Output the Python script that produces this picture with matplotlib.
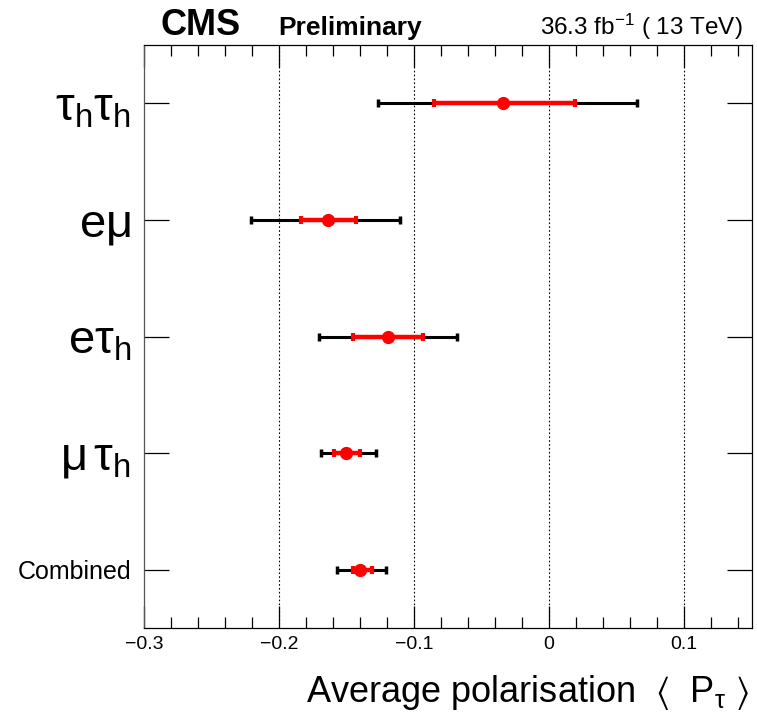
import matplotlib
matplotlib.use('Agg')
import matplotlib.pyplot as plt
from matplotlib.ticker import MultipleLocator

plt.rcParams['font.family'] = ['Liberation Sans', 'DejaVu Sans']
plt.rcParams['mathtext.fontset'] = 'custom'
plt.rcParams['mathtext.rm'] = 'Liberation Sans'
plt.rcParams['mathtext.it'] = 'Liberation Sans:italic'
plt.rcParams['mathtext.fallback'] = 'stix'

# channels, top to bottom
channels = [r'$\mathrm{τ_hτ_h}$', r'$\mathrm{eμ}$', r'$\mathrm{eτ_h}$', r'$\mathrm{μ\,τ_h}$', 'Combined']
pol = [-0.034, -0.164, -0.119, -0.150, -0.140]
stat_lo = [-0.085, -0.184, -0.145, -0.159, -0.145]
stat_hi = [0.019, -0.143, -0.093, -0.140, -0.131]
tot_lo = [-0.127, -0.221, -0.170, -0.169, -0.157]
tot_hi = [0.065, -0.110, -0.068, -0.128, -0.121]

xticks = [-0.3, -0.2, -0.1, 0.0, 0.1]
xticklabels = ['\u22120.3', '\u22120.2', '\u22120.1', '0', '0.1']

fig = plt.figure(figsize=(7.57, 7.15), dpi=100)
ax = fig.add_axes([0.190, 0.1217, 0.803, 0.8153])

ypos = [4.5 - i for i in range(len(channels))]

for x in xticks[1:]:
    ax.axvline(x, color='black', lw=0.8, ls=(0, (1.5, 2)), zorder=1)

for y, c, sl, sh, tl, th in zip(ypos, pol, stat_lo, stat_hi, tot_lo, tot_hi):
    ax.errorbar(c, y, xerr=[[c - tl], [th - c]], fmt='none', ecolor='black',
                elinewidth=2.2, capsize=3, capthick=2.5, zorder=2)
    ax.errorbar(c, y, xerr=[[c - sl], [sh - c]], fmt='none', ecolor='red',
                elinewidth=3.2, capsize=3, capthick=3, zorder=3)
    ax.plot(c, y, 'o', color='red', markersize=8.5, zorder=4)

ax.set_xlim(-0.3, 0.15)
ax.set_ylim(0, 5)
ax.set_xticks(xticks)
ax.set_xticklabels(xticklabels, fontsize=14)
ax.xaxis.set_minor_locator(MultipleLocator(0.02))
ax.tick_params(axis='x', which='major', direction='in', length=16, width=0.9,
               top=True, pad=6)
ax.tick_params(axis='x', which='minor', direction='in', length=8, width=0.9, top=True)

ax.set_yticks(ypos)
ax.set_yticklabels(channels)
ax.tick_params(axis='y', direction='in', length=18, width=0.9, right=True, pad=9)
for lab in ax.get_yticklabels()[:-1]:
    lab.set_fontsize(34)
ax.get_yticklabels()[-1].set_fontsize(18)

for s in ax.spines.values():
    s.set_linewidth(0.9)
ax.spines['left'].set_color('#555555')

ax.set_xlabel('Average polarisation  $\\langle$  P$_{\\mathrm{τ}}$ $\\rangle$', fontsize=26,
              loc='right', va='baseline')
ax.xaxis.set_label_coords(0.995, -0.127)

fig.text(0.212, 0.951, 'CMS', fontsize=26, fontweight='bold')
fig.text(0.367, 0.951, 'Preliminary', fontsize=19, fontweight='bold')
fig.text(0.981, 0.951, r'36.3 fb$^{-1}$ ( 13 TeV)', fontsize=17.5, ha='right')

fig.savefig('out.png', dpi=100)
